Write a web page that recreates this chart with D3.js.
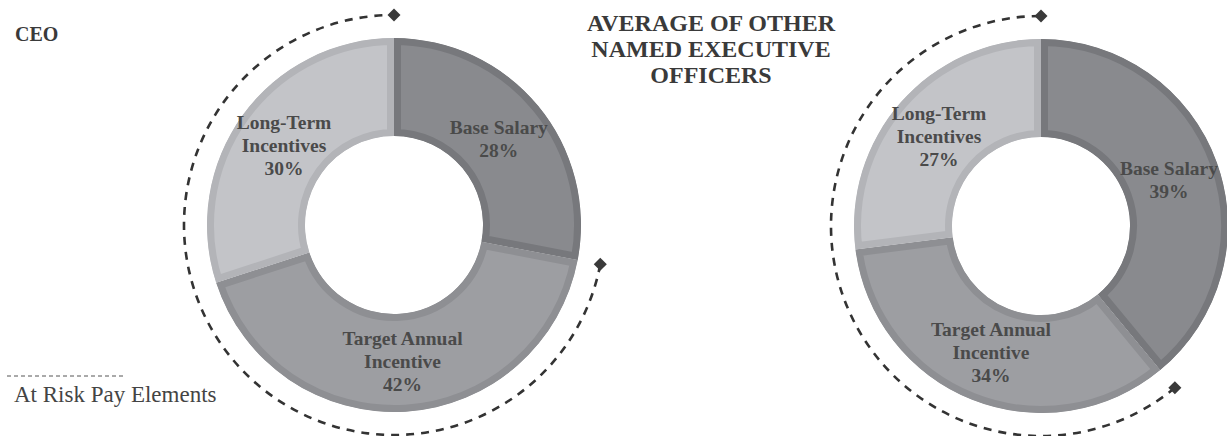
<!DOCTYPE html>
<html>
<head>
<meta charset="utf-8">
<script src="https://cdn.jsdelivr.net/npm/d3@7"></script>
<style>
  body { margin: 0; background: #fff; }
  text { font-family: "Liberation Serif", "Times New Roman", serif; }
</style>
</head>
<body>
<div class="container"></div>
<script>
// data
const categories = ["Base Salary", "Target Annual Incentive", "Long-Term Incentives"];
const labelLines = [["Base Salary"], ["Target Annual", "Incentive"], ["Long-Term", "Incentives"]];
const ceoValues = [28, 42, 30];
const neoValues = [39, 34, 27];
const titleLines = [["CEO"], ["AVERAGE OF OTHER", "NAMED EXECUTIVE", "OFFICERS"]];
const atRiskCategories = ["Target Annual Incentive", "Long-Term Incentives"];
const legendLabel = "At Risk Pay Elements";

const W = 1227, H = 436;
const fills = ["#898a8e", "#9d9ea2", "#c3c4c8"];
const borders = ["#77787c", "#8e8f93", "#b3b4b8"];

var svg = d3.select(".container")
  .append("svg")
  .attr("width", W)
  .attr("height", H);

let outerR = 187, innerR = 89, labelR = 136, riskR = 210;

let pie = d3.pie().sort(null).value((d) => d);
let arc = d3.arc().innerRadius(innerR).outerRadius(outerR);
let labelArc = d3.arc().innerRadius(labelR).outerRadius(labelR);

let drawDonut = (values, cx, cy, id) => {
  let g = svg.append("g").attr("transform", `translate(${cx},${cy})`);
  let arcs = pie(values);

  // clip each slice so the stroke shows as an inset border
  let defs = svg.append("defs");
  arcs.forEach((a, i) => {
    defs.append("clipPath")
      .attr("id", `clip-${id}-${i}`)
      .append("path")
      .attr("d", arc(a));
  });

  g.selectAll("path.slice")
    .data(arcs)
    .enter()
    .append("path")
    .attr("class", "slice")
    .attr("d", arc)
    .attr("fill", (d, i) => fills[i])
    .attr("stroke", (d, i) => borders[i])
    .attr("stroke-width", 14)
    .attr("clip-path", (d, i) => `url(#clip-${id}-${i})`);

  // labels
  arcs.forEach((a, i) => {
    let [x, y] = labelArc.centroid(a);
    let lines = labelLines[i].concat([values[i] + "%"]);
    let t = g.append("text")
      .attr("text-anchor", "middle")
      .attr("font-size", 19.5)
      .attr("font-weight", "bold")
      .attr("fill", "#4a4a4a");
    lines.forEach((l, k) => {
      t.append("tspan")
        .attr("x", x)
        .attr("y", y + (k - (lines.length - 1) / 2) * 23)
        .attr("dy", "0.35em")
        .text(l);
    });
  });

  // at-risk dashed arc
  let riskArcs = arcs.filter((a, i) => atRiskCategories.includes(categories[i]));
  let a0 = d3.min(riskArcs, (a) => a.startAngle);
  let a1 = d3.max(riskArcs, (a) => a.endAngle);
  let p = d3.path();
  p.moveTo(riskR * Math.sin(a0), -riskR * Math.cos(a0));
  p.arc(0, 0, riskR, a0 - Math.PI / 2, a1 - Math.PI / 2);
  g.append("path")
    .attr("d", p.toString())
    .attr("fill", "none")
    .attr("stroke", "#333")
    .attr("stroke-width", 2.6)
    .attr("stroke-dasharray", "8,7");

  g.selectAll("path.marker")
    .data([a0, a1])
    .enter()
    .append("path")
    .attr("class", "marker")
    .attr("d", d3.symbol(d3.symbolSquare, 85))
    .attr("transform", (a) => `translate(${riskR * Math.sin(a)},${-riskR * Math.cos(a)}) rotate(45)`)
    .attr("fill", "#3a3a3a");
};

drawDonut(ceoValues, 394, 225, "ceo");
drawDonut(neoValues, 1041, 226, "neo");

// titles
svg.append("text")
  .attr("x", 15)
  .attr("y", 41)
  .attr("font-size", 20)
  .attr("font-weight", "bold")
  .attr("fill", "#3a3a3a")
  .text(titleLines[0][0]);

let t2 = svg.append("text")
  .attr("text-anchor", "middle")
  .attr("font-size", 24)
  .attr("font-weight", "bold")
  .attr("fill", "#3a3a3a");
titleLines[1].forEach((l, k) => {
  t2.append("tspan").attr("x", 711).attr("y", 31 + k * 26).text(l);
});

// legend
svg.append("line")
  .attr("x1", 7).attr("x2", 125)
  .attr("y1", 376).attr("y2", 376)
  .attr("stroke", "#555")
  .attr("stroke-width", 1)
  .attr("stroke-dasharray", "4,3");

svg.append("text")
  .attr("x", 14)
  .attr("y", 402)
  .attr("font-size", 23)
  .attr("fill", "#444")
  .text(legendLabel);
</script>
</body>
</html>
